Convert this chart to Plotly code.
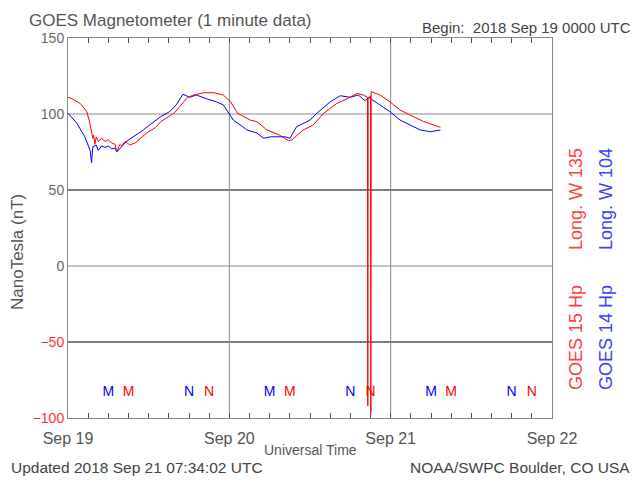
import plotly.graph_objects as go

# ---- data (hours since 2018-09-19 00:00 UTC) ----
g15_t = [0, 0.6, 1.8, 2.8, 3.2, 3.5, 3.7, 3.8, 4.0, 4.2, 4.5, 5.0, 5.5, 6.0, 6.5, 7.0, 7.25, 7.7, 8.0, 8.5,
         9.2, 10.0, 11.0, 11.7, 13.0, 13.8, 15.8, 16.8, 17.8, 18.7, 20.2, 21.7, 23.1, 24.2, 25.2, 27.1,
         28.1, 29.6, 31.5, 32.8, 33.3, 35.0, 36.5, 38.0, 40.0, 41.5, 43.0, 43.9, 44.55, 44.6, 44.65,
         45.0, 45.05, 45.06, 45.07, 45.1, 46.4, 47.9, 49.4, 50.9, 52.9, 54.4, 55.4]
g15_v = [111, 110, 107, 101.5, 95, 87.5, 84, 86, 80, 85, 82, 84, 82, 83, 81, 80, 75, 80, 79, 82,
         79.6, 81, 85, 87.5, 91, 95, 100.6, 106, 111, 112.5, 114, 114, 112.5, 108, 100.6, 96,
         95, 89.5, 86, 82.5, 83, 89.5, 92.8, 100.4, 107, 110, 113.6, 112.5, 111, -92, 110,
         112, -97, 41, -60, 114.7, 112.5, 108, 102.6, 99.3, 95, 92.8, 91.2]

g14_t = [0, 1.3, 2.5, 3.3, 3.5, 3.6, 3.7, 4.2, 4.5, 5.0, 5.5, 6.0, 6.5, 7.0, 7.25, 8.7, 11.2, 13.7,
         15.1, 16.1, 17.1, 18.1, 19.1, 20.6, 22.1, 23.1, 24.6, 26.0, 26.6, 28.1, 29.1, 30.1, 32.3,
         33.0, 34.0, 36.0, 37.0, 39.0, 40.5, 42.0, 43.2, 44.2, 44.7, 46.4, 47.9, 49.4, 52.4, 53.9, 55.4]
g14_v = [100.5, 94, 85, 76, 68, 75, 78.5, 79.6, 76, 79, 78, 79, 77, 77.6, 75, 82, 89.5, 98,
         101.5, 106, 113, 111, 112.5, 110, 108, 106, 96, 91.6, 89.5, 87.5, 84, 85, 85,
         84, 91.6, 96, 100.4, 108, 112, 111, 112.5, 108.7, 111, 106, 101.5, 96, 89.5, 88.3, 89.5]

mark_t = [6, 9, 18, 21, 30, 33, 42, 45, 54, 57, 66, 69]
mark_txt = ["M", "M", "N", "N", "M", "M", "N", "N", "M", "M", "N", "N"]
mark_col = ["#0000ff", "#ff0000"] * 6
mark_y = -83

day_ticks = [0, 24, 48, 72]
day_labels = ["Sep 19", "Sep 20", "Sep 21", "Sep 22"]
y_ticks = [-100, -50, 0, 50, 100, 150]
y_labels = ['<span style="color:#ff3030">−100</span>', '<span style="color:#ff3030">−50</span>',
            "0", "50", "100", "150"]
hgrid_vals = [100, 50, 0, -50]
hgrid_cols = ["#888888", "#000000", "#888888", "#000000"]
vgrid_vals = [24, 48]

RED = "#ff0000"
BLUE = "#0000ff"
TXT = "#444444"
FONT = "Liberation Sans"

# the page body has an 8px margin; the figure is sized to fill the rest
OFF = 8
W, H = 640 - OFF, 488 - OFF

fig = go.Figure()
fig.add_trace(go.Scatter(x=g14_t, y=g14_v, mode="lines", line=dict(color=BLUE, width=1), hoverinfo="skip"))
fig.add_trace(go.Scatter(x=g15_t, y=g15_v, mode="lines", line=dict(color=RED, width=1), hoverinfo="skip"))
fig.add_trace(go.Scatter(x=mark_t, y=[mark_y] * len(mark_t), mode="text", text=mark_txt,
                         textfont=dict(color=mark_col, size=14, family=FONT), hoverinfo="skip"))

shapes = []
for v, c in zip(hgrid_vals, hgrid_cols):
    shapes.append(dict(type="line", xref="paper", x0=0, x1=1, yref="y", y0=v, y1=v,
                       line=dict(color=c, width=1), layer="below"))
for v in vgrid_vals:
    shapes.append(dict(type="line", yref="paper", y0=0, y1=1, xref="x", x0=v, x1=v,
                       line=dict(color="#888888", width=1), layer="below"))

# plot-area edges in screen pixels
L, R, T, B = 68, 552, 38, 418
def px(x):
    return (x - L) / (R - L)
def py(y):
    return (B - y) / (B - T)

sp = "\u00a0" * 7
ann = [
    dict(text="GOES Magnetometer (1 minute data)", x=px(27), y=py(20), xanchor="left", yanchor="middle",
         font=dict(size=17, color="#555555")),
    dict(text="Begin:  2018 Sep 19 0000 UTC", x=px(633), y=py(27), xanchor="right", yanchor="middle",
         font=dict(size=15, color=TXT)),
    dict(text="Universal Time", x=px(310), y=py(450), xanchor="center", yanchor="middle",
         font=dict(size=14, color="#555555")),
    dict(text="Updated 2018 Sep 21 07:34:02 UTC", x=px(9), y=py(467), xanchor="left", yanchor="middle",
         font=dict(size=15.5, color=TXT)),
    dict(text="NOAA/SWPC Boulder, CO USA", x=px(632), y=py(467), xanchor="right", yanchor="middle",
         font=dict(size=15.5, color=TXT)),
    dict(text="NanoTesla (nT)", x=px(17), y=py(252), xanchor="center", yanchor="middle", textangle=-90,
         font=dict(size=17, color="#555555")),
    dict(text="GOES 15 Hp" + sp + "Long. W 135", x=px(576), y=py(269), xanchor="center",
         yanchor="middle", textangle=-90, font=dict(size=18, color="#ff4040")),
    dict(text="GOES 14 Hp" + sp + "Long. W 104", x=px(606), y=py(269), xanchor="center",
         yanchor="middle", textangle=-90, font=dict(size=18, color="#4040ff")),
]
for a in ann:
    a.update(xref="paper", yref="paper", showarrow=False)
    a["font"]["family"] = FONT

xtv = list(range(0, 73, 3))
xtt = [day_labels[day_ticks.index(t)] if t in day_ticks else "" for t in xtv]

fig.update_layout(
    width=W, height=H,
    margin=dict(l=L - OFF, r=W - (R - OFF), t=T - OFF, b=H - (B - OFF), pad=0),
    paper_bgcolor="white", plot_bgcolor="white",
    showlegend=False,
    shapes=shapes, annotations=ann,
    font=dict(family=FONT, color="#555555"),
    xaxis=dict(range=[0, 72], tickvals=xtv, ticktext=xtt, ticks="inside", ticklen=5, tickcolor="#555555",
               showgrid=False, zeroline=False, showline=True, linecolor="#888888", mirror="ticks",
               ticklabelstandoff=6, tickfont=dict(size=16, color="#555555")),
    yaxis=dict(range=[-100, 150], tickvals=y_ticks, ticktext=y_labels, ticks="", showgrid=False,
               zeroline=False, showline=True, linecolor="#888888", mirror=True,
               tickfont=dict(size=14, color="#666666")),
)

fig.write_html("out.html")
